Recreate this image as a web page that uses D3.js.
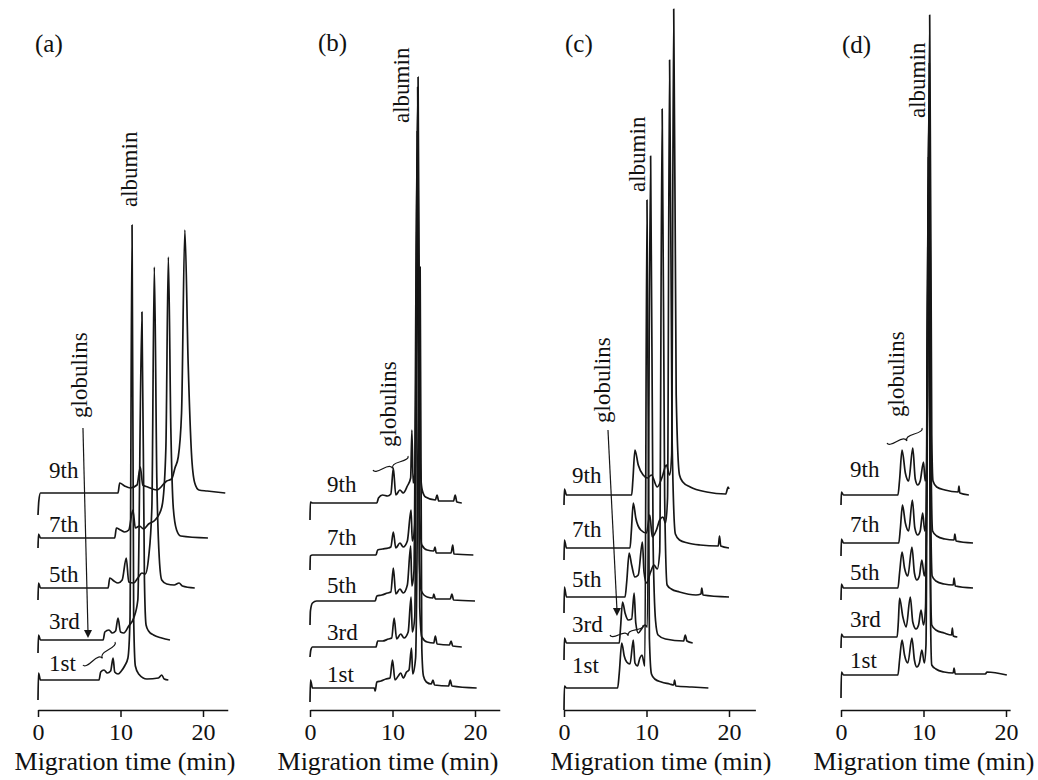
<!DOCTYPE html>
<html>
<head>
<meta charset="utf-8">
<script src="https://cdn.jsdelivr.net/npm/d3@7"></script>
<style>
  body { margin: 0; background: #fff; }
  text { font-family: "Liberation Serif", "Times New Roman", serif; fill: #111; }
</style>
</head>
<body>
<svg id="chart" width="1038" height="780"></svg>
<script>
// run names, same for every panel
var runLabels = ['1st', '3rd', '5th', '7th', '9th'];
var tickValues = [0, 10, 20];

// vertical stacking of each run (signal units above the time axis)
var offsetsA = [30, 70, 122, 172, 217];
var offsetsB = [22, 63, 109, 155, 207];
var offsetsC = [22, 67, 113, 162, 215];
var offsetsD = [35, 73, 122, 167, 215];

// traces: [migration time (min), signal above the run baseline]
var tracesA = [
  [[0,-20],[0.06,7],[0.3,0],[7.4,0],[7.6,8],[8.0,10],[8.4,7],[8.8,9],[9.1,22],[9.3,8],[9.7,6],[10.1,9],[10.5,14],[10.9,22],[11.15,60],[11.4,455],[11.6,60],[11.8,14],[12.2,6],[13.2,1],[14.6,2],[15.0,5],[15.3,1],[15.8,0]],
  [[0,-13],[0.06,5],[0.3,0],[7.9,0],[8.1,8],[8.6,10],[9.0,7],[9.4,9],[9.7,22],[10.0,8],[10.4,7],[11.0,14],[11.6,22],[12.1,40],[12.6,328],[12.9,60],[13.1,15],[13.4,9],[14.0,5],[15.0,2],[16.0,0]],
  [[0,-12],[0.06,5],[0.3,0],[8.5,0],[8.7,10],[9.2,7],[9.7,5],[10.2,8],[10.7,30],[11.0,6],[11.6,5],[12.1,10],[12.6,15],[13.0,14],[13.4,30],[13.8,80],[14.1,321],[14.4,110],[14.7,30],[15.0,8],[15.6,4],[16.5,3],[17.1,5],[17.5,2],[19.0,0]],
  [[0,-10],[0.06,4],[0.3,0],[9.3,0],[9.5,10],[10.0,8],[10.5,6],[11.0,8],[11.5,28],[11.8,10],[12.3,12],[12.8,9],[13.4,14],[14.2,18],[14.7,24],[15.1,35],[15.5,90],[15.8,281],[16.1,110],[16.4,30],[16.8,8],[17.3,2],[20.6,0]],
  [[0,-22],[0.1,-8],[0.3,0],[9.7,0],[9.9,10],[10.5,7],[11.2,5],[12.0,8],[12.4,26],[12.7,8],[13.3,6],[14.4,3],[15.6,12],[16.2,14],[16.6,25],[17.0,36],[17.4,80],[17.8,263],[18.2,130],[18.6,40],[19.0,10],[19.5,3],[20.5,2],[22.7,0]]
];
var tracesB = [
  [[0,-14],[0.06,8],[0.3,0],[7.8,0],[7.9,-3],[8.1,6],[8.6,7],[9.2,9],[9.7,10],[10.0,28],[10.3,8],[10.7,12],[11.0,15],[11.3,10],[11.7,16],[12.0,18],[12.3,40],[12.45,14],[12.8,30],[13.35,421],[13.55,40],[13.75,12],[14.1,6],[14.7,4],[14.9,8],[15.1,3],[16.8,2],[17.0,8],[17.2,2],[20.2,0]],
  [[0,-10],[0.1,-3],[0.3,0],[8.0,0],[8.2,6],[8.8,6],[9.5,8],[9.9,9],[10.2,29],[10.5,8],[11.0,13],[11.4,9],[11.9,15],[12.25,50],[12.4,15],[12.7,30],[13.05,447],[13.3,40],[13.55,10],[14.2,5],[15.0,4],[15.2,11],[15.4,3],[16.9,2],[17.1,6],[17.3,1],[18.4,0]],
  [[0,-24],[0.05,-10],[0.3,-2],[0.8,0],[7.9,0],[8.1,5],[8.7,6],[9.4,8],[9.8,9],[10.1,33],[10.4,7],[10.9,12],[11.3,8],[11.8,16],[12.2,55],[12.35,15],[12.6,30],[13.0,470],[13.25,40],[13.5,10],[14.2,4],[14.9,3],[15.0,7],[15.2,2],[17.0,2],[17.2,7],[17.4,1],[20.0,0]],
  [[0,-15],[0.04,-1],[0.3,0],[8.0,0],[8.2,5],[8.8,6],[9.5,7],[9.8,8],[10.1,23],[10.4,7],[10.9,12],[11.3,8],[11.8,14],[12.25,45],[12.4,14],[12.7,30],[13.05,468],[13.3,40],[13.55,10],[14.2,5],[15.0,4],[15.15,8],[15.3,2],[17.1,2],[17.3,10],[17.45,1],[19.8,0]],
  [[0,-17],[0.04,1],[0.3,0],[8.1,0],[8.3,5],[8.8,8],[9.4,7],[9.8,9],[10.1,35],[10.4,8],[10.9,13],[11.3,10],[11.8,17],[12.2,25],[12.35,73],[12.5,20],[12.75,35],[13.1,426],[13.35,40],[13.6,13],[14.0,6],[15.2,3],[15.4,8],[15.6,2],[17.4,2],[17.6,8],[17.8,1],[18.4,0]]
];
var tracesC = [
  [[0,-22],[0.05,2],[0.3,0],[6.5,0],[6.7,15],[7.0,45],[7.3,32],[7.6,26],[8.0,24],[8.4,48],[8.6,25],[8.9,22],[9.2,30],[9.45,33],[9.8,22],[10.06,488],[10.35,50],[10.6,14],[11.0,9],[11.8,6],[12.8,4],[13.3,3],[13.4,8],[13.55,2],[15.5,1],[17.5,0]],
  [[0,-17],[0.05,5],[0.3,0],[6.7,0],[6.85,15],[7.1,41],[7.4,30],[7.8,23],[8.2,24],[8.5,50],[8.7,20],[9.0,10],[9.4,14],[9.8,18],[10.1,16],[10.5,487],[10.8,100],[11.1,22],[11.4,8],[12.3,4],[14.5,2],[14.7,8],[14.9,2],[15.6,0]],
  [[0,-16],[0.05,10],[0.3,0],[7.4,0],[7.6,15],[7.9,44],[8.2,32],[8.6,20],[9.0,22],[9.5,55],[9.7,25],[10.0,14],[10.5,25],[10.9,32],[11.3,28],[11.6,45],[11.9,488],[12.2,100],[12.5,12],[13.0,8],[14.0,5],[16.0,2],[16.6,3],[16.7,9],[16.85,2],[20.0,0]],
  [[0,-12],[0.05,8],[0.3,0],[8.0,0],[8.15,15],[8.4,45],[8.7,30],[9.3,18],[10.0,15],[10.4,33],[10.7,11],[11.2,18],[11.6,28],[12.0,31],[12.3,25],[12.55,50],[12.8,488],[13.1,110],[13.5,14],[14.0,8],[15.0,5],[16.5,3],[18.7,2],[18.85,12],[19.0,2],[20.0,0]],
  [[0,-10],[0.05,6],[0.3,0],[8.2,0],[8.35,15],[8.6,45],[9.0,30],[9.6,20],[10.1,17],[10.6,20],[11.3,8],[11.9,18],[12.4,30],[12.8,20],[13.05,40],[13.3,486],[13.6,100],[14.0,20],[14.4,13],[15.3,8],[17.3,3],[19.6,1],[19.9,8],[20.0,6]]
];
var tracesD = [
  [[0,-23],[0.05,3],[0.3,0],[6.9,0],[7.1,15],[7.4,35],[7.7,20],[8.1,12],[8.6,37],[8.9,15],[9.2,8],[9.5,12],[9.8,25],[10.1,12],[10.3,30],[10.6,480],[10.85,60],[11.0,10],[11.5,6],[12.5,3],[13.6,2],[13.7,7],[13.85,1],[17.5,1],[17.7,3],[20.1,0]],
  [[0,-11],[0.05,3],[0.3,0],[6.8,0],[6.95,15],[7.1,39],[7.5,20],[7.9,10],[8.4,40],[8.7,15],[9.1,8],[9.4,12],[9.7,27],[10.0,12],[10.25,30],[10.6,480],[10.85,60],[11.0,12],[11.5,7],[12.5,4],[13.4,2],[13.5,9],[13.6,1],[14.1,0]],
  [[0,-12],[0.05,4],[0.3,0],[6.9,0],[7.1,15],[7.4,36],[7.7,20],[8.1,12],[8.6,41],[8.9,15],[9.2,8],[9.5,12],[9.8,28],[10.1,12],[10.3,30],[10.65,480],[10.9,60],[11.05,12],[11.5,7],[12.5,4],[13.6,3],[13.7,10],[13.85,2],[16.0,0]],
  [[0,-13],[0.05,4],[0.3,0],[7.0,0],[7.2,15],[7.45,38],[7.8,20],[8.2,12],[8.65,43],[8.95,15],[9.3,8],[9.6,12],[9.9,30],[10.15,12],[10.35,30],[10.7,480],[10.95,60],[11.1,12],[11.6,7],[12.6,4],[13.7,3],[13.8,9],[13.95,2],[16.0,0]],
  [[0,-10],[0.05,3],[0.3,0],[6.9,0],[7.1,15],[7.4,45],[7.8,22],[8.2,14],[8.7,47],[9.0,16],[9.3,10],[9.6,14],[10.0,33],[10.2,14],[10.4,30],[10.75,480],[11.0,60],[11.15,14],[11.6,8],[12.6,5],[14.2,3],[14.3,9],[14.4,2],[15.5,0]]
];

var svg = d3.select('#chart');
var axisY = 710;
var pxPerMin = 8.25;

// one y scale for all panels: signal units -> pixels
var yScale = d3.scaleLinear().domain([0, 710]).range([axisY, 0]);

// layout of each panel (positions only)
var panels = [
  {name: '(a)', x0: 38,  tMax: 23,   traces: tracesA, offsets: offsetsA, nameX: 35,  nameY: 52,
   labelX: 49,  labelY: [671, 629, 582, 532, 478], titleX: 125,
   albumin: [12.0, 503], globulins: [5.94, 292],
   arrow: [[5.45, 282], [6.06, 72]], brace: [[5.45, 45], [9.33, 68]]},
  {name: '(b)', x0: 310, tMax: 23,   traces: tracesB, offsets: offsetsB, nameX: 318, nameY: 51,
   labelX: 327, labelY: [682, 640, 593, 545, 492], titleX: 388,
   albumin: [12.0, 587], globulins: [10.42, 263],
   arrow: null, brace: [[7.64, 240], [11.88, 254]]},
  {name: '(c)', x0: 564, tMax: 23.2, traces: tracesC, offsets: offsetsC, nameX: 565, nameY: 52,
   labelX: 572, labelY: [673, 632, 587, 537, 483], titleX: 661,
   albumin: [9.82, 518], globulins: [5.58, 287],
   arrow: [[5.33, 280], [6.42, 94]], brace: [[5.58, 75], [9.58, 85]]},
  {name: '(d)', x0: 841, tMax: 20.5, traces: tracesD, offsets: offsetsD, nameX: 842, nameY: 53,
   labelX: 850, labelY: [668, 627, 580, 532, 477], titleX: 924,
   albumin: [10.18, 592], globulins: [7.64, 293],
   arrow: null, brace: [[5.58, 267], [9.82, 282]]}
];

// curly brace between two points, cusp pushed sideways by w
function bracePath(x1, y1, x2, y2, w, q) {
    var dx = x1 - x2, dy = y1 - y2;
    var len = Math.sqrt(dx * dx + dy * dy);
    dx = dx / len; dy = dy / len;
    var qx1 = x1 + q * w * dy, qy1 = y1 - q * w * dx;
    var qx2 = (x1 - .25 * len * dx) + (1 - q) * w * dy, qy2 = (y1 - .25 * len * dy) - (1 - q) * w * dx;
    var tx1 = (x1 - .5 * len * dx) + w * dy, ty1 = (y1 - .5 * len * dy) - w * dx;
    var qx3 = x2 + q * w * dy, qy3 = y2 - q * w * dx;
    var qx4 = (x1 - .75 * len * dx) + (1 - q) * w * dy, qy4 = (y1 - .75 * len * dy) - (1 - q) * w * dx;
    return 'M' + x1 + ',' + y1 + ' Q' + qx1 + ',' + qy1 + ' ' + qx2 + ',' + qy2 + ' T' + tx1 + ',' + ty1 +
           ' M' + x2 + ',' + y2 + ' Q' + qx3 + ',' + qy3 + ' ' + qx4 + ',' + qy4 + ' T' + tx1 + ',' + ty1;
}

panels.forEach(function(p) {
    var xScale = d3.scaleLinear()
        .domain([0, p.tMax])
        .range([p.x0, p.x0 + p.tMax * pxPerMin]);

    var g = svg.append('g');

    // x axis
    var xAxisG = g.append('g')
        .attr('transform', 'translate(0,' + axisY + ')')
        .call(d3.axisBottom(xScale).tickValues(tickValues).tickSize(7).tickSizeOuter(0));
    xAxisG.select('.domain').attr('stroke', '#111').attr('stroke-width', 1.5);
    xAxisG.selectAll('.tick line').attr('stroke', '#111').attr('stroke-width', 1.5);
    xAxisG.selectAll('.tick text')
        .attr('y', 13)
        .style('font-family', '"Liberation Serif", serif')
        .style('font-size', '24px')
        .attr('fill', '#111');

    g.append('text')
        .attr('x', p.titleX)
        .attr('y', 770)
        .attr('text-anchor', 'middle')
        .style('font-size', '26px')
        .text('Migration time (min)');

    // traces
    var line = d3.line()
        .x(function(d) { return xScale(d[0]); })
        .curve(d3.curveMonotoneX);

    p.traces.forEach(function(tr, i) {
        line.y(function(d) { return yScale(d[1] + p.offsets[i]); });
        g.append('path')
            .datum(tr)
            .attr('d', line)
            .attr('fill', 'none')
            .attr('stroke', '#161616')
            .attr('stroke-width', 1.7)
            .attr('stroke-linejoin', 'round');

        g.append('text')
            .attr('x', p.labelX)
            .attr('y', p.labelY[i])
            .style('font-size', '23px')
            .text(runLabels[i]);
    });

    // panel letter
    g.append('text')
        .attr('x', p.nameX)
        .attr('y', p.nameY)
        .style('font-size', '25px')
        .text(p.name);

    // rotated annotations
    g.append('text')
        .attr('transform', 'translate(' + xScale(p.albumin[0]) + ',' + yScale(p.albumin[1]) + ') rotate(-90)')
        .style('font-size', '23px')
        .text('albumin');
    g.append('text')
        .attr('transform', 'translate(' + xScale(p.globulins[0]) + ',' + yScale(p.globulins[1]) + ') rotate(-90)')
        .style('font-size', '23px')
        .text('globulins');

    if (p.arrow) {
        var ax1 = xScale(p.arrow[0][0]), ay1 = yScale(p.arrow[0][1]);
        var ax2 = xScale(p.arrow[1][0]), ay2 = yScale(p.arrow[1][1]);
        g.append('line')
            .attr('x1', ax1).attr('y1', ay1)
            .attr('x2', ax2).attr('y2', ay2 - 6)
            .attr('stroke', '#161616')
            .attr('stroke-width', 1.2);
        g.append('path')
            .attr('d', 'M' + (ax2 - 4) + ',' + (ay2 - 8) + ' L' + (ax2 + 4) + ',' + (ay2 - 8) + ' L' + ax2 + ',' + ay2 + 'Z')
            .attr('fill', '#161616');
    }

    if (p.brace) {
        g.append('path')
            .attr('d', bracePath(xScale(p.brace[0][0]), yScale(p.brace[0][1]),
                                 xScale(p.brace[1][0]), yScale(p.brace[1][1]), 6, 0.6))
            .attr('fill', 'none')
            .attr('stroke', '#161616')
            .attr('stroke-width', 1.2);
    }
});
</script>
</body>
</html>
